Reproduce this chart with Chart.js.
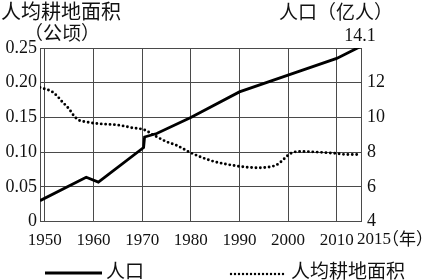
<!DOCTYPE html>
<html>
<head>
<meta charset="utf-8">
<script src="https://cdn.jsdelivr.net/npm/chart.js@4/dist/chart.umd.min.js"></script>
<style>
  html, body { margin: 0; padding: 0; background: #fff; }
  #wrap { width: 426px; height: 280px; }
</style>
</head>
<body>
<div id="wrap"><canvas id="chLine"></canvas></div>
<script>
// population (100 million people), right axis
var popYears = [1949, 1958.5, 1961, 1970.3, 1970.5, 1973, 1980, 1990, 2000, 2010, 2015];
var popValues = [5.2, 6.55, 6.27, 8.26, 8.87, 9.07, 9.99, 11.47, 12.44, 13.4, 14.1];

// arable land per capita (hectares), left axis
var landYears = [1949, 1950, 1951.5, 1952.5, 1953.5, 1955, 1956, 1957, 1958.5, 1961, 1965, 1968, 1970.5,
                 1972.5, 1975, 1977, 1980, 1984, 1987, 1990, 1993.5, 1996.5, 1998, 1999.3, 2000.5,
                 2002.5, 2006, 2010, 2012, 2015];
var landValues = [0.193, 0.191, 0.187, 0.181, 0.173, 0.162, 0.152, 0.146, 0.1435, 0.141, 0.139, 0.135, 0.132,
                  0.124, 0.115, 0.110, 0.099, 0.088, 0.083, 0.0795, 0.0775, 0.079, 0.083, 0.091, 0.098,
                  0.101, 0.100, 0.098, 0.0965, 0.0965];

// tick labels
var xTicks = [1950, 1960, 1970, 1980, 1990, 2000, 2010, 2015];
var landTicks = [0, 0.05, 0.10, 0.15, 0.20, 0.25];
var popTicks = [4, 6, 8, 10, 12];

var numFont = { family: '"Liberation Serif", serif', size: 17 };
var cjkFont = '"Noto Sans CJK SC", sans-serif';
var gridColor = '#4a4a4a';

function toPoints(xs, ys) {
    return xs.map(function(x, i) { return { x: x, y: ys[i] }; });
}

// texts around the plot: titles, end label, last x label, legend
var extraText = {
    id: 'extraText',
    afterDraw: function(chart) {
        var ctx = chart.ctx;
        var xs = chart.scales.x;
        var ys = chart.scales.yR;
        ctx.save();
        ctx.fillStyle = '#111';
        ctx.textBaseline = 'middle';

        ctx.font = '20px ' + cjkFont;
        ctx.textAlign = 'left';
        ctx.fillText('人均耕地面积', 1, 11);
        ctx.font = '19px ' + cjkFont;
        ctx.textAlign = 'center';
        ctx.fillText('（公顷）', 62, 33);
        ctx.textAlign = 'left';
        ctx.fillText('人口（亿人）', 279, 12);

        // end value of population
        var last = popValues.length - 1;
        ctx.font = '18px "Liberation Serif", serif';
        ctx.textAlign = 'center';
        ctx.fillText(String(popValues[last]), xs.getPixelForValue(popYears[last]) - 1, ys.getPixelForValue(popValues[last]) - 10);

        // last x label with unit
        ctx.font = '17px "Liberation Serif", serif';
        ctx.textAlign = 'left';
        var lx = xs.getPixelForValue(xTicks[xTicks.length - 1]) - 4;
        ctx.fillText(String(xTicks[xTicks.length - 1]), lx, 240);
        var w = ctx.measureText('2015').width;
        ctx.font = '17px ' + cjkFont;
        ctx.fillText('（年）', lx + w - 9, 239);

        // legend
        ctx.strokeStyle = '#000';
        ctx.lineWidth = 2.8;
        ctx.beginPath();
        ctx.moveTo(45, 273);
        ctx.lineTo(102, 273);
        ctx.stroke();
        ctx.lineWidth = 2.4;
        ctx.lineCap = 'round';
        ctx.setLineDash([0, 4]);
        ctx.beginPath();
        ctx.moveTo(231, 274);
        ctx.lineTo(287, 274);
        ctx.stroke();
        ctx.font = '19px ' + cjkFont;
        ctx.fillText('人口', 106, 271);
        ctx.fillText('人均耕地面积', 291, 271);
        ctx.restore();
    }
};

new Chart(document.getElementById('chLine'), {
    type: 'line',
    data: {
        datasets: [{
            label: '人口',
            data: toPoints(popYears, popValues),
            yAxisID: 'yR',
            borderColor: '#000',
            borderWidth: 2.8,
            pointRadius: 0,
            tension: 0
        }, {
            label: '人均耕地面积',
            data: toPoints(landYears, landValues),
            yAxisID: 'yL',
            borderColor: '#000',
            borderWidth: 2.9,
            borderDash: [0, 4.4],
            borderCapStyle: 'round',
            pointRadius: 0,
            cubicInterpolationMode: 'monotone'
        }]
    },
    options: {
        responsive: true,
        maintainAspectRatio: false,
        animation: false,
        layout: { padding: { top: 48, left: 0, right: 0, bottom: 0 } },
        plugins: { legend: { display: false }, tooltip: { enabled: false } },
        scales: {
            x: {
                type: 'linear',
                min: 1949,
                max: 2015,
                afterBuildTicks: function(scale) {
                    scale.ticks = xTicks.map(function(v) { return { value: v }; });
                },
                afterFit: function(scale) { scale.height = 58.5; },
                grid: { color: gridColor, lineWidth: 1, drawTicks: false },
                border: { color: gridColor },
                ticks: {
                    color: '#111',
                    font: numFont,
                    padding: 9,
                    maxRotation: 0,
                    autoSkip: false,
                    callback: function(v) { return v === 2015 ? '' : String(v); }
                }
            },
            yL: {
                position: 'left',
                min: 0,
                max: 0.25,
                afterFit: function(scale) { scale.width = 40; },
                grid: { color: gridColor, lineWidth: 1, drawTicks: false },
                border: { color: gridColor },
                ticks: {
                    stepSize: 0.025,
                    color: '#111',
                    font: { family: '"Liberation Serif", serif', size: 18 },
                    padding: 3,
                    callback: function(v) {
                        for (var i = 0; i < landTicks.length; i++) {
                            if (Math.abs(v - landTicks[i]) < 1e-9) return v === 0 ? '0' : v.toFixed(2);
                        }
                        return '';
                    }
                }
            },
            yR: {
                position: 'right',
                min: 4,
                max: 14,
                afterBuildTicks: function(scale) {
                    scale.ticks = popTicks.map(function(v) { return { value: v }; });
                },
                afterFit: function(scale) { scale.width = 65; },
                grid: { display: false, drawTicks: false },
                border: { color: gridColor },
                ticks: { color: '#111', font: { family: '"Liberation Serif", serif', size: 18 }, padding: 6 }
            }
        }
    },
    plugins: [extraText]
});
</script>
</body>
</html>
